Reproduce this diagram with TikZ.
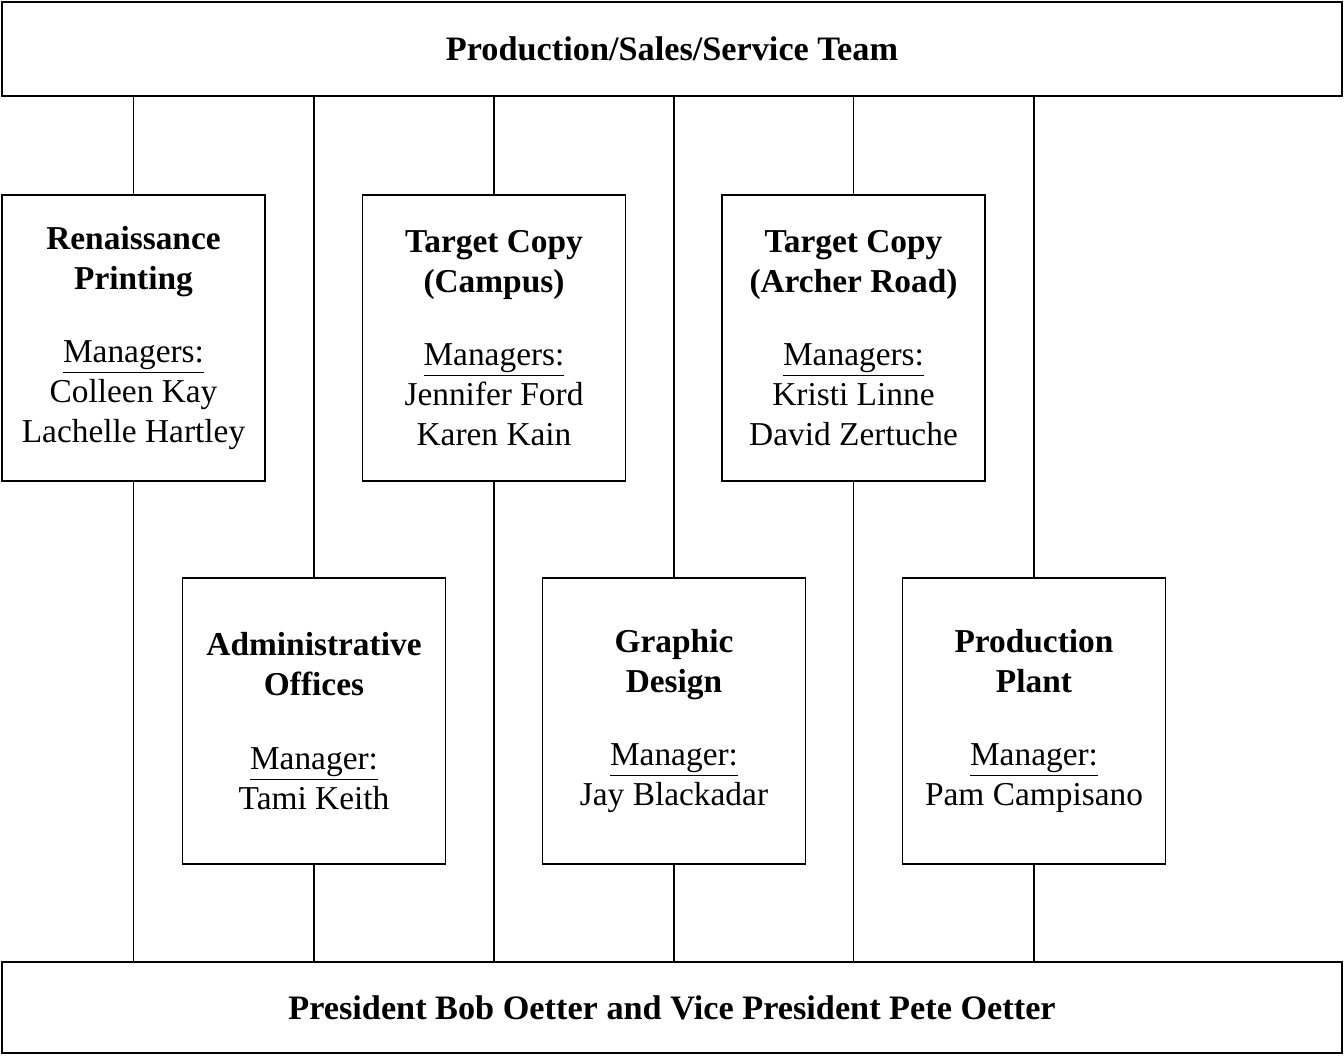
\documentclass[tikz,border=0pt]{standalone}
\usepackage{fontspec}
\setmainfont{Liberation Serif}
\usepackage{tikz}
\usetikzlibrary{positioning}
\tikzset{
  wide/.style={rectangle, draw, line width=1.1pt, minimum width=26.8cm,
               align=center, font=\fontsize{19.5}{22.7}\selectfont\bfseries},
  dept/.style={rectangle, draw, line width=1.1pt, fill=white,
               minimum width=5.26cm, minimum height=5.72cm,
               align=center, font=\fontsize{19}{22.7}\selectfont},
  link/.style={line width=1.1pt},
}

\begin{document}
\begin{tikzpicture}
  \useasboundingbox (0,0) rectangle (26.88,-21.1);
  % team and owners
  \node[wide, minimum height=1.88cm] (team) at (13.44,-0.98)
    {Production/Sales/Service Team};
  \node[wide, minimum height=1.82cm] (pres) at (13.44,-20.15)
    {President Bob Oetter and Vice President Pete Oetter};
  % upper row
  \node[dept] (rp) at (2.67,-6.76)
    {\textbf{Renaissance}\\\textbf{Printing}\\[0.68cm]\underline{Managers:}\\Colleen Kay\\Lachelle Hartley};
  \node[dept] (tcc) at (9.88,-6.76)
    {\textbf{Target Copy}\\\textbf{(Campus)}\\[0.68cm]\underline{Managers:}\\Jennifer Ford\\Karen Kain};
  \node[dept] (tca) at (17.07,-6.76)
    {\textbf{Target Copy}\\\textbf{(Archer Road)}\\[0.68cm]\underline{Managers:}\\Kristi Linne\\David Zertuche};
  % lower row
  \node[dept] (ao) at (6.28,-14.42)
    {\textbf{Administrative}\\\textbf{Offices}\\[0.68cm]\underline{Manager:}\\Tami Keith};
  \node[dept] (gd) at (13.48,-14.42)
    {\textbf{Graphic}\\\textbf{Design}\\[0.68cm]\underline{Manager:}\\Jay Blackadar};
  \node[dept] (pp) at (20.68,-14.42)
    {\textbf{Production}\\\textbf{Plant}\\[0.68cm]\underline{Manager:}\\Pam Campisano};
  % every department hangs between the two wide bars
  \foreach \d in {rp,tcc,tca,ao,gd,pp} {
    \draw[link] (\d.north) -- (\d.north |- team.south);
    \draw[link] (\d.south) -- (\d.south |- pres.north);
  }
\end{tikzpicture}
\end{document}
